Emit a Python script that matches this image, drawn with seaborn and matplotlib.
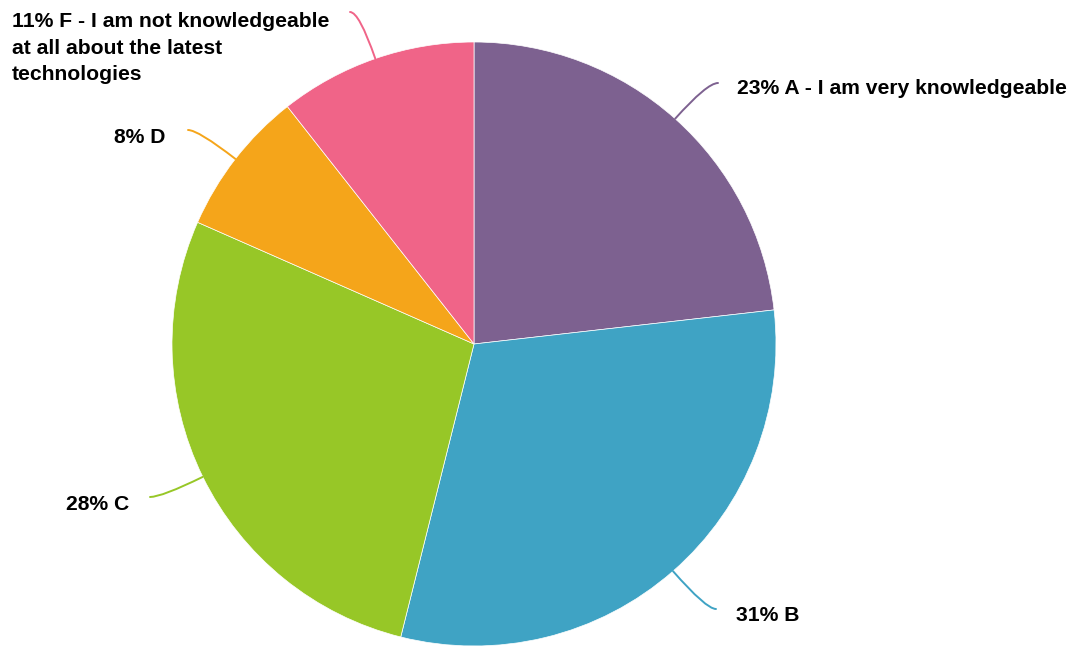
import numpy as np
import matplotlib
matplotlib.use("Agg")
import matplotlib.pyplot as plt
import seaborn as sns

# ---- data ----
categories = ["A - I am very knowledgeable", "B", "C", "D",
              "F - I am not knowledgeable\nat all about the latest\ntechnologies"]
shares = [23.2, 30.7, 27.7, 7.8, 10.6]
pct_labels = ["23%", "31%", "28%", "8%", "11%"]
colors = ["#7D6190", "#3FA3C4", "#97C727", "#F5A51A", "#F06488"]

sns.set_theme(style="white")
plt.rcParams["font.family"] = ["Liberation Sans", "DejaVu Sans"]

W, H = 1077, 648
fig = plt.figure(figsize=(W / 100, H / 100), dpi=100)
ax = fig.add_axes([0, 0, 1, 1])
cx, cy, R = 474, H - 344, 302

wedges, _ = ax.pie(shares, colors=colors, startangle=90, counterclock=False,
                   center=(cx, cy), radius=R,
                   wedgeprops=dict(edgecolor="white", linewidth=0.5))
ax.set_xlim(0, W)
ax.set_ylim(0, H)
ax.set_aspect("equal")
ax.axis("off")

# label layout (pixel coords, y measured from top): leader end, text x, baselines, ha
layout = [
    dict(end=(718, 83), tx=737, base=[94.5], ha="left"),
    dict(end=(716, 609), tx=736, base=[621], ha="left"),
    dict(end=(150, 497), tx=129, base=[510], ha="right"),
    dict(end=(188, 130), tx=165, base=[143], ha="right"),
    dict(end=(350, 12), tx=12, base=[27, 53.5, 80], ha="left"),
]

for w, cat, pct, col, lay in zip(wedges, categories, pct_labels, colors, layout):
    mid = np.deg2rad((w.theta1 + w.theta2) / 2)
    sx, sy = cx + R * np.cos(mid), cy + R * np.sin(mid)
    ex, ey = lay["end"][0], H - lay["end"][1]
    ang = np.rad2deg(mid)
    ax.annotate("", xy=(sx, sy), xytext=(ex, ey),
                arrowprops=dict(arrowstyle="-", color=col, lw=1.4,
                                shrinkA=0, shrinkB=0,
                                connectionstyle=f"angle3,angleA=0,angleB={ang:.1f}"))
    lines = f"{pct} {cat}".split("\n")
    for line, b in zip(lines, lay["base"]):
        ax.text(lay["tx"], H - b, line, ha=lay["ha"], va="baseline",
                fontsize=15.2, fontweight="bold", color="black")

fig.savefig("out.png", dpi=100)
